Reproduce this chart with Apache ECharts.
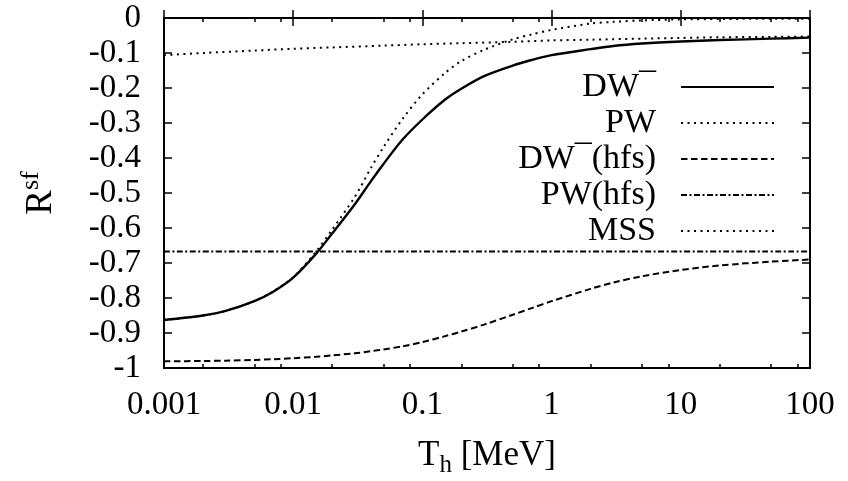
<!DOCTYPE html>
<html><head><meta charset="utf-8">
<script src="https://cdn.jsdelivr.net/npm/echarts@6/dist/echarts.min.js"></script>
<style>html,body{margin:0;padding:0;background:#fff}#c{width:848px;height:481px}</style>
</head><body><div id="c"></div>
<script>
// ---- data ----
const xValues = [0.001, 0.002, 0.003, 0.005, 0.007, 0.01, 0.015, 0.02, 0.03, 0.04, 0.05, 0.07, 0.1, 0.15, 0.2, 0.3, 0.5, 0.7, 1, 2, 3, 5, 10, 20, 50, 100];
const dwMinus = [-0.863, -0.850, -0.837, -0.809, -0.782, -0.742, -0.674, -0.616, -0.532, -0.466, -0.417, -0.348, -0.290, -0.233, -0.202, -0.166, -0.136, -0.120, -0.106, -0.089, -0.080, -0.073, -0.067, -0.063, -0.059, -0.056];
const pw = [-0.863, -0.850, -0.837, -0.809, -0.781, -0.741, -0.668, -0.605, -0.511, -0.428, -0.369, -0.289, -0.218, -0.157, -0.123, -0.091, -0.061, -0.047, -0.034, -0.016, -0.011, -0.007, -0.004, -0.003, -0.002, -0.002];
const dwMinusHfs = [-0.981, -0.980, -0.979, -0.977, -0.975, -0.972, -0.968, -0.964, -0.958, -0.952, -0.947, -0.938, -0.926, -0.909, -0.896, -0.876, -0.848, -0.829, -0.809, -0.774, -0.756, -0.738, -0.720, -0.707, -0.696, -0.690];
const pwHfsX = [0.001, 100];
const pwHfs = [-0.667, -0.667];
const mssX = [0.001, 0.002, 0.005, 0.01, 0.02, 0.05, 0.1, 0.2, 0.5, 1, 2, 5, 10, 20, 50, 100];
const mss = [-0.106, -0.100, -0.093, -0.088, -0.084, -0.079, -0.075, -0.072, -0.068, -0.064, -0.062, -0.059, -0.057, -0.055, -0.054, -0.053];
const xMinorTicks = [0.002, 0.005, 0.008, 0.02, 0.05, 0.08, 0.2, 0.5, 0.8, 2, 5, 8, 20, 50, 80];
const seriesNames = ['DW−', 'PW', 'DW−(hfs)', 'PW(hfs)', 'MSS'];
const legendLabels = ['{a|DW}{s|¯}', '{a|PW}', '{a|DW}{s|¯}{a|(hfs)}', '{a|PW(hfs)}', '{a|MSS}'];

// ---- chart ----
const FONT = 'Liberation Serif';
const chart = echarts.init(document.getElementById('c'), null, {renderer: 'canvas'});
const pair = (xs, ys) => xs.map((x, i) => [x, ys[i]]);
const dashes = ['solid', [2, 4.5], [6.5, 3.5], [6, 2.5, 2, 2.5], [2, 4.5]];
const widths = [2.4, 2, 2, 2, 2];
const seriesData = [pair(xValues, dwMinus), pair(xValues, pw), pair(xValues, dwMinusHfs), pair(pwHfsX, pwHfs), pair(mssX, mss)];
const legendCenters = [88, 124, 160, 196, 232];
const richStyles = {
  a: {fontFamily: FONT, fontSize: 34, lineHeight: 36, color: '#000'},
  s: {fontFamily: FONT, fontSize: 34, lineHeight: 36, color: '#000'}
};
const fmtX = v => String(Number(Number(v).toPrecision(3)));
const fmtY = v => String(Math.round(v * 10) / 10);

const baseX = {type: 'log', logBase: 10, min: 0.001, max: 100, gridIndex: 0,
  axisLine: {show: false}, splitLine: {show: false}, minorTick: {show: false}};
const baseY = {type: 'value', min: -1, max: 0, interval: 0.1, gridIndex: 0,
  axisLine: {show: false}, splitLine: {show: false}};

chart.setOption({
  backgroundColor: '#fff',
  animation: false,
  grid: {left: 164, right: 38, top: 18, bottom: 113, show: true, borderColor: '#000', borderWidth: 2,
    backgroundColor: 'transparent', containLabel: false, outerBoundsMode: 'none'},
  xAxis: [
    Object.assign({}, baseX, {position: 'bottom',
      axisTick: {inside: true, length: 8, lineStyle: {color: '#000', width: 1.5}},
      axisLabel: {fontFamily: FONT, fontSize: 33, lineHeight: 33, color: '#000', margin: 21, formatter: fmtX},
      name: '{a|T}{sub|h}{a| [MeV]}', nameLocation: 'middle', nameGap: 70,
      nameTextStyle: {rich: {
        a: {fontFamily: FONT, fontSize: 35, lineHeight: 36, color: '#000'},
        sub: {fontFamily: FONT, fontSize: 25, lineHeight: 25, color: '#000', padding: [18, 0, 0, 0]}
      }}}),
    Object.assign({}, baseX, {position: 'top',
      axisTick: {inside: true, length: 8, lineStyle: {color: '#000', width: 1.5}},
      axisLabel: {show: false}}),
    Object.assign({}, baseX, {position: 'bottom',
      axisTick: {inside: true, length: 4, customValues: xMinorTicks, lineStyle: {color: '#000', width: 1.5}},
      axisLabel: {show: false}}),
    Object.assign({}, baseX, {position: 'top',
      axisTick: {inside: true, length: 4, customValues: xMinorTicks, lineStyle: {color: '#000', width: 1.5}},
      axisLabel: {show: false}})
  ],
  yAxis: [
    Object.assign({}, baseY, {position: 'left',
      axisTick: {inside: true, length: 8, lineStyle: {color: '#000', width: 1.5}},
      axisLabel: {fontFamily: FONT, fontSize: 33, lineHeight: 33, color: '#000', margin: 23, formatter: fmtY},
      name: '{a|R}{sup|sf}', nameLocation: 'middle', nameGap: 104, nameRotate: 90,
      nameTextStyle: {rich: {
        a: {fontFamily: FONT, fontSize: 37, lineHeight: 38, color: '#000'},
        sup: {fontFamily: FONT, fontSize: 26, lineHeight: 26, color: '#000', padding: [0, 0, 20, 0]}
      }}}),
    Object.assign({}, baseY, {position: 'right',
      axisTick: {inside: true, length: 8, lineStyle: {color: '#000', width: 1.5}},
      axisLabel: {show: false}})
  ],
  legend: seriesNames.map((n, i) => ({
    data: [n], orient: 'vertical', right: 73, top: legendCenters[i] - 18, align: 'right',
    itemWidth: 93, itemHeight: 10, padding: 0, itemGap: 0, selectedMode: false,
    itemStyle: {opacity: 0, borderWidth: 0},
    formatter: () => legendLabels[i],
    textStyle: {padding: [0, 20, 0, 0], rich: richStyles}
  })),
  series: seriesNames.map((n, i) => ({
    name: n, type: 'line', xAxisIndex: 0, yAxisIndex: 0,
    data: seriesData[i], showSymbol: false, symbol: 'none', smooth: 0.3,
    lineStyle: {color: '#000', width: widths[i], type: dashes[i]},
    itemStyle: {color: '#000'}, z: 3
  }))
});
</script></body></html>
